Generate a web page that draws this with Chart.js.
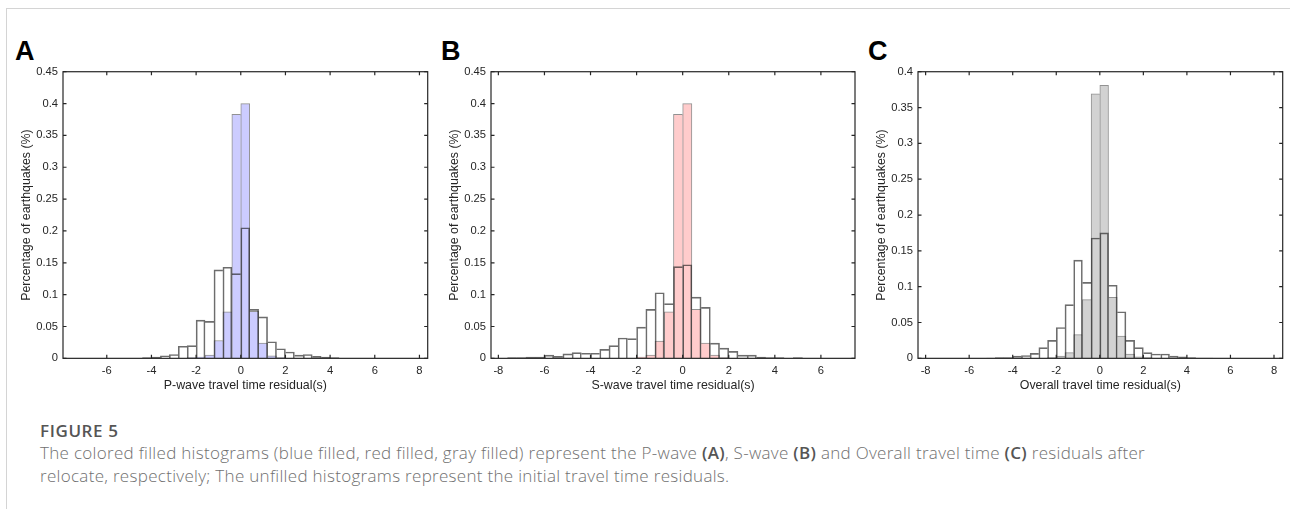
<!DOCTYPE html>
<html><head><meta charset="utf-8">
<script src="https://cdn.jsdelivr.net/npm/chart.js@4/dist/chart.umd.min.js"></script>
<style>
html,body{margin:0;padding:0;background:#fff;width:1290px;height:509px;overflow:hidden;}
#frame{position:absolute;left:6px;top:8px;width:1300px;height:520px;border-left:1.5px solid #d4d4d4;border-top:1.5px solid #d4d4d4;}
.letter{position:absolute;font-family:"Liberation Sans",Arial,sans-serif;font-weight:bold;font-size:27px;line-height:27px;color:#000;}
canvas{position:absolute;}
.cap{position:absolute;left:40px;font-family:"Open Sans",sans-serif;font-size:17px;line-height:23px;color:#707070;font-weight:300;letter-spacing:0.3px;white-space:nowrap;}
.cap b{font-weight:600;color:#555;}
</style></head>
<body>
<div id="frame"></div>
<div class="letter" style="left:15px;top:38px;">A</div>
<div class="letter" style="left:441px;top:38px;">B</div>
<div class="letter" style="left:868px;top:38px;">C</div>
<canvas id="cA" width="425" height="340" style="left:10px;top:60px;"></canvas>
<canvas id="cB" width="425" height="340" style="left:438px;top:60px;"></canvas>
<canvas id="cC" width="425" height="340" style="left:865px;top:60px;"></canvas>
<div class="cap" style="top:419.2px;font-weight:600;color:#555;letter-spacing:0.6px;">FIGURE 5</div>
<div class="cap" style="top:440.9px;">The colored filled histograms (blue filled, red filled, gray filled) represent the P-wave <b>(A)</b>, S-wave <b>(B)</b> and Overall travel time <b>(C)</b> residuals after<br>relocate, respectively; The unfilled histograms represent the initial travel time residuals.</div>
<script>
// ---- data ----
const binCenters = [-7.4,-7.0,-6.6,-6.2,-5.8,-5.4,-5.0,-4.6,-4.2,-3.8,-3.4,-3.0,-2.6,-2.2,-1.8,-1.4,-1.0,-0.6,-0.2,0.2,0.6,1.0,1.4,1.8,2.2,2.6,3.0,3.4,3.8,4.2,4.6,5.0];

const pInitial   = [null,null,null,null,null,null,null,null,0.001,0.002,0.004,0.006,0.019,0.020,0.060,0.058,0.139,0.143,0.133,0.205,0.077,0.065,0.026,0.015,0.010,0.005,0.006,0.003,0.002,0.001,null,null];
const pRelocated = [null,null,null,null,null,null,null,null,null,null,null,null,null,0.001,0.002,0.005,0.028,0.073,0.383,0.400,0.074,0.024,0.004,0.001,null,null,null,null,null,null,null,null];

const sInitial   = [0.001,0.001,0.002,0.002,0.005,0.003,0.007,0.009,0.008,0.008,0.014,0.020,0.032,0.031,0.049,0.077,0.103,0.086,0.144,0.147,0.096,0.080,0.024,0.016,0.011,0.005,0.005,0.002,0.001,0.001,null,0.001];
const sRelocated = [null,null,null,null,null,null,null,null,null,null,null,null,null,null,0.002,0.005,0.027,0.073,0.383,0.400,0.077,0.024,0.005,0.001,null,null,null,null,null,null,null,null];

const oInitial   = [null,null,null,null,null,null,0.0005,0.001,0.001,0.003,0.004,0.007,0.015,0.025,0.043,0.075,0.137,0.106,0.168,0.175,0.102,0.065,0.025,0.015,0.008,0.006,0.006,0.003,0.002,0.001,0.0005,0.0005];
const oRelocated = [null,null,null,null,null,null,null,null,null,null,null,null,null,0.001,0.003,0.008,0.033,0.082,0.369,0.381,0.085,0.031,0.006,0.002,0.001,null,null,null,null,null,null,null];

const xTicksA = [-6,-4,-2,0,2,4,6,8];
const xTicksB = [-8,-6,-4,-2,0,2,4,6];
const xTicksC = [-8,-6,-4,-2,0,2,4,6,8];
const xTickLabelsA = ['-6','-4','-2','0','2','4','6','8'];
const xTickLabelsB = ['-8','-6','-4','-2','0','2','4','6'];
const xTickLabelsC = ['-8','-6','-4','-2','0','2','4','6','8'];
const yTicksAB = [0,0.05,0.1,0.15,0.2,0.25,0.3,0.35,0.4,0.45];
const yTickLabelsAB = ['0','0.05','0.1','0.15','0.2','0.25','0.3','0.35','0.4','0.45'];
const yTicksC = [0,0.05,0.1,0.15,0.2,0.25,0.3,0.35,0.4];
const yTickLabelsC = ['0','0.05','0.1','0.15','0.2','0.25','0.3','0.35','0.4'];

const xTitles = ['P-wave travel time residual(s)','S-wave travel time residual(s)','Overall travel time residual(s)'];
const yTitle = 'Percentage of earthquakes (%)';

// ---- rendering ----
Chart.defaults.font.family = '"Liberation Sans", Arial, sans-serif';
Chart.defaults.color = '#262626';

const boxPlugin = {
  id: 'matlabBox',
  afterDatasetsDraw(chart) {
    const {ctx, chartArea: a, scales: {x, y}} = chart;
    ctx.save();
    ctx.strokeStyle = '#262626';
    ctx.lineWidth = 1.2;
    ctx.strokeRect(a.left, a.top, a.right - a.left, a.bottom - a.top);
    const L = 3.5;
    ctx.beginPath();
    x.ticks.forEach(t => {
      const px = x.getPixelForValue(t.value);
      ctx.moveTo(px, a.bottom); ctx.lineTo(px, a.bottom - L);
      ctx.moveTo(px, a.top); ctx.lineTo(px, a.top + L);
    });
    y.ticks.forEach(t => {
      const py = y.getPixelForValue(t.value);
      ctx.moveTo(a.left, py); ctx.lineTo(a.left + L, py);
      ctx.moveTo(a.right, py); ctx.lineTo(a.right - L, py);
    });
    ctx.stroke();
    ctx.restore();
  }
};

function edgeWidths(c) {
  const d = c.dataset.data, i = c.dataIndex;
  const v = d[i] ? d[i].y : null;
  const prev = i > 0 && d[i-1] ? d[i-1].y : null;
  const next = i < d.length - 1 && d[i+1] ? d[i+1].y : null;
  return {top: 1, bottom: 0,
    left: (prev == null || prev <= v) ? 1 : 0,
    right: (next == null || next < v) ? 1 : 0};
}

function pts(vals) { return binCenters.map((c, i) => ({x: c, y: vals[i]})); }

function makePanel(id, relocated, initial, fill, xr, xTicks, xLabels, yMax, yTicks, yLabels, xTitle, padRight) {
  new Chart(document.getElementById(id), {
    type: 'bar',
    data: {
      datasets: [
        {data: pts(initial), backgroundColor: 'rgba(255,255,255,0)', borderColor: 'rgba(30,30,30,0.65)',
         borderWidth: edgeWidths, borderSkipped: false, grouped: false, order: 0, barPercentage: 1, categoryPercentage: 1},
        {data: pts(relocated), backgroundColor: fill, borderColor: 'rgba(100,100,100,0.7)',
         borderWidth: edgeWidths, borderSkipped: false, grouped: false, order: 1, barPercentage: 1, categoryPercentage: 1}
      ]
    },
    options: {
      responsive: false, animation: false, devicePixelRatio: 1,
      layout: {padding: {left: 0, top: 11.7, right: padRight, bottom: 6.56}},
      plugins: {legend: {display: false}, tooltip: {enabled: false}},
      scales: {
        x: {
          type: 'linear', min: xr[0], max: xr[1], offset: false,
          afterBuildTicks: s => { s.ticks = xTicks.map(v => ({value: v})); },
          afterFit: s => { s.height = 35.1; },
          grid: {display: false, drawTicks: false}, border: {display: false},
          ticks: {padding: 6, autoSkip: false, maxRotation: 0, color: '#262626', font: {size: 11.2},
                  callback: (v, i) => xLabels[i]},
          title: {display: true, text: xTitle, color: '#262626', font: {size: 12.4}, padding: {top: 0, bottom: 0}}
        },
        y: {
          type: 'linear', min: 0, max: yMax,
          afterBuildTicks: s => { s.ticks = yTicks.map(v => ({value: v})); },
          afterFit: s => { s.width = 53; },
          grid: {display: false, drawTicks: false}, border: {display: false},
          ticks: {padding: 5, autoSkip: false, color: '#262626', font: {size: 11.2},
                  callback: (v, i) => yLabels[i]},
          title: {display: true, text: yTitle, color: '#262626', font: {size: 12.4}, padding: {top: 9.6, bottom: 0}}
        }
      }
    },
    plugins: [boxPlugin]
  });
}

makePanel('cA', pRelocated, pInitial, 'rgb(204,204,255)', [-7.96, 8.37], xTicksA, xTickLabelsA, 0.45, yTicksAB, yTickLabelsAB, xTitles[0], 7.3);
makePanel('cB', sRelocated, sInitial, 'rgb(255,204,204)', [-8.32, 7.48], xTicksB, xTickLabelsB, 0.45, yTicksAB, yTickLabelsAB, xTitles[1], 8);
makePanel('cC', oRelocated, oInitial, 'rgb(210,210,210)', [-8.35, 8.4], xTicksC, xTickLabelsC, 0.4, yTicksC, yTickLabelsC, xTitles[2], 7.3);
</script>
</body></html>
